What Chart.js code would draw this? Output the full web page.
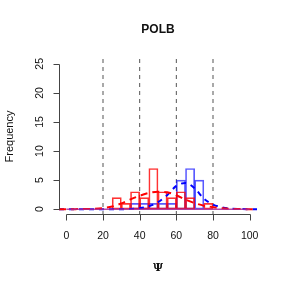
<!DOCTYPE html>
<html>
<head>
<meta charset="utf-8">
<script src="https://cdn.jsdelivr.net/npm/chart.js@4"></script>
<style>
  html, body { margin: 0; padding: 0; background: #fff; }
</style>
</head>
<body>
<canvas id="chart" width="288" height="288"></canvas>
<script>
const title = "POLB";
const xTitle = "Ψ";
const yTitle = "Frequency";

// histogram bins (width 5)
const binEdges = [0, 5, 10, 15, 20, 25, 30, 35, 40, 45, 50, 55, 60, 65, 70, 75, 80, 85, 90, 95, 100];
const redCounts = [0, 0, 0, 0, 0, 2, 1, 3, 2, 7, 3, 2, 3, 2, 0, 1, 0, 0, 0, 0];
const blueCounts = [0, 0, 0, 0, 0, 0, 0, 1, 1, 1, 1, 1, 5, 7, 5, 0, 0, 0, 0, 0];

// fitted curves
const curveX = [-4, 0, 5, 10, 15, 20, 25, 30, 35, 40, 45, 50, 55, 60, 65, 70, 75, 80, 85, 90, 95, 100, 104];
const redCurve = [0, 0, 0.01, 0.03, 0.08, 0.2, 0.45, 1.0, 1.7, 2.3, 2.8, 3.0, 2.9, 2.4, 1.65, 1.05, 0.6, 0.35, 0.15, 0.05, 0.02, 0, 0];
const blueCurve = [0, 0, 0, 0, 0, 0, 0, 0, 0.03, 0.15, 0.5, 1.2, 2.4, 4.0, 4.5, 3.6, 1.8, 0.8, 0.3, 0.08, 0.02, 0, 0];

const refLines = [20, 40, 60, 80];
const xTicks = [0, 20, 40, 60, 80, 100];
const yTicks = [0, 5, 10, 15, 20, 25];
const xLimits = [-4, 104];
const yLimits = [-1, 26];

const FONT = "'Liberation Sans', Arial, sans-serif";

const bars = counts =>
  counts.map((c, i) => ({ x: (binEdges[i] + binEdges[i + 1]) / 2, y: c }));
const curve = vals => vals.map((v, i) => ({ x: curveX[i], y: v }));

// base axes drawn the R way: line only from first to last tick
const rAxes = {
  id: "rAxes",
  afterDraw(chart) {
    const { ctx, chartArea, scales } = chart;
    const x = scales.x, y = scales.y;
    ctx.save();
    ctx.strokeStyle = "#444";
    ctx.lineWidth = 1;
    ctx.fillStyle = "#111";
    ctx.font = "10.5px " + FONT;

    const ax = chartArea.bottom - 0.5;
    ctx.beginPath();
    ctx.moveTo(Math.round(x.getPixelForValue(xTicks[0])) + 0.5, ax);
    ctx.lineTo(Math.round(x.getPixelForValue(xTicks[xTicks.length - 1])) + 0.5, ax);
    xTicks.forEach(t => {
      const px = Math.round(x.getPixelForValue(t)) + 0.5;
      ctx.moveTo(px, ax);
      ctx.lineTo(px, ax + 6);
    });
    ctx.stroke();
    ctx.textAlign = "center";
    ctx.textBaseline = "middle";
    xTicks.forEach(t => ctx.fillText(String(t), x.getPixelForValue(t), ax + 22));

    const ay = chartArea.left + 0.5;
    ctx.beginPath();
    ctx.moveTo(ay, Math.round(y.getPixelForValue(yTicks[0])) + 0.5);
    ctx.lineTo(ay, Math.round(y.getPixelForValue(yTicks[yTicks.length - 1])) + 0.5);
    yTicks.forEach(t => {
      const py = Math.round(y.getPixelForValue(t)) + 0.5;
      ctx.moveTo(ay, py);
      ctx.lineTo(ay - 6, py);
    });
    ctx.stroke();
    yTicks.forEach(t => {
      ctx.save();
      ctx.translate(ay - 19, y.getPixelForValue(t));
      ctx.rotate(-Math.PI / 2);
      ctx.fillText(String(t), 0, 0);
      ctx.restore();
    });

    // titles
    const cx = (chartArea.left + chartArea.right) / 2;
    ctx.font = "bold 12px " + FONT;
    ctx.fillText(title, cx, 30);
    ctx.font = "bold 11px 'DejaVu Serif', serif";
    ctx.fillText(xTitle, cx, 268);
    ctx.font = "11px " + FONT;
    ctx.save();
    ctx.translate(10, (chartArea.top + chartArea.bottom) / 2);
    ctx.rotate(-Math.PI / 2);
    ctx.fillText(yTitle, 0, 0);
    ctx.restore();
    ctx.restore();
  }
};

const refSets = refLines.map(v => ({
  type: "line",
  data: [{ x: v, y: yLimits[0] }, { x: v, y: yLimits[1] }],
  borderColor: "#555",
  borderWidth: 1,
  borderDash: [4, 4],
  pointRadius: 0,
  order: 8
}));

new Chart(document.getElementById("chart"), {
  type: "bar",
  data: {
    datasets: [
      {
        type: "line",
        data: curve(redCurve),
        borderColor: "#ff0000",
        borderWidth: 2,
        borderDash: [7, 5],
        pointRadius: 0,
        cubicInterpolationMode: "monotone",
        order: 1
      },
      {
        type: "line",
        data: curve(blueCurve),
        borderColor: "#0000ff",
        borderWidth: 2,
        borderDash: [5, 5],
        pointRadius: 0,
        cubicInterpolationMode: "monotone",
        order: 2
      },
      {
        data: bars(redCounts),
        backgroundColor: "rgba(0,0,0,0)",
        borderColor: "rgba(255,0,0,0.8)",
        borderWidth: 1,
        borderSkipped: false,
        order: 3
      },
      {
        data: bars(blueCounts),
        backgroundColor: "rgba(0,0,0,0)",
        borderColor: "rgba(0,0,255,0.65)",
        borderWidth: 1,
        borderSkipped: false,
        order: 4
      },
      {
        type: "line",
        data: [{ x: binEdges[0], y: 0 }, { x: binEdges[binEdges.length - 1], y: 0 }],
        borderColor: "rgba(170,40,150,0.85)",
        borderWidth: 1.5,
        pointRadius: 0,
        order: 0
      },
      ...refSets
    ]
  },
  options: {
    responsive: false,
    animation: false,
    devicePixelRatio: 1,
    layout: { padding: { left: 59, right: 31, top: 58, bottom: 73 } },
    grouped: false,
    barPercentage: 1,
    categoryPercentage: 1,
    plugins: { legend: { display: false }, title: { display: false }, tooltip: { enabled: false } },
    scales: {
      x: { type: "linear", min: xLimits[0], max: xLimits[1], offset: false, display: false },
      y: { type: "linear", min: yLimits[0], max: yLimits[1], display: false }
    }
  },
  plugins: [rAxes]
});
</script>
</body>
</html>
